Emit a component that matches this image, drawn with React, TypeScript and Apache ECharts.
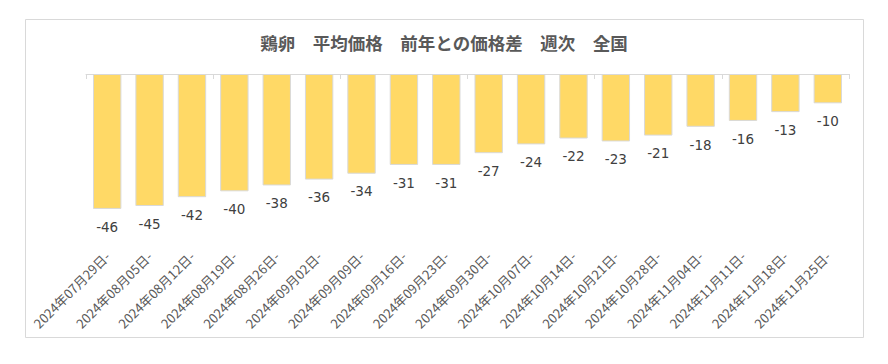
import React, { useEffect, useRef } from "react";
import * as echarts from "echarts";

const TITLE = "鶏卵　平均価格　前年との価格差　週次　全国";

const categories = [
  "2024年07月29日-",
  "2024年08月05日-",
  "2024年08月12日-",
  "2024年08月19日-",
  "2024年08月26日-",
  "2024年09月02日-",
  "2024年09月09日-",
  "2024年09月16日-",
  "2024年09月23日-",
  "2024年09月30日-",
  "2024年10月07日-",
  "2024年10月14日-",
  "2024年10月21日-",
  "2024年10月28日-",
  "2024年11月04日-",
  "2024年11月11日-",
  "2024年11月18日-",
  "2024年11月25日-",
];

const priceDiff = [-46, -45, -42, -40, -38, -36, -34, -31, -31, -27, -24, -22, -23, -21, -18, -16, -13, -10];

const NUM_FONT = "'DejaVu Sans', 'Noto Sans CJK JP', sans-serif";
const CJK_FONT = "'Noto Sans CJK JP', sans-serif";

export default function App() {
  const ref = useRef<HTMLDivElement>(null);

  useEffect(() => {
    if (!ref.current) return;
    const chart = echarts.init(ref.current, undefined, { renderer: "svg" });
    chart.setOption({
      animation: false,
      backgroundColor: "#ffffff",
      title: {
        text: TITLE,
        left: "center",
        top: 34,
        padding: 0,
        textStyle: { fontSize: 17.5, fontWeight: "bold", color: "#595959", fontFamily: CJK_FONT },
      },
      graphic: [
        {
          type: "rect",
          shape: { x: 25.5, y: 19.5, width: 838, height: 318 },
          style: { fill: "none", stroke: "#D9D9D9", lineWidth: 1 },
          silent: true,
        },
      ],
      grid: { left: 86, right: 39, top: 74, height: 176 },
      xAxis: [
        {
          type: "category",
          data: categories,
          position: "bottom",
          axisLine: { show: false },
          axisTick: { show: false },
          axisLabel: {
            rotate: 45,
            margin: 4,
            interval: 0,
            fontSize: 13,
            color: "#595959",
            fontFamily: CJK_FONT,
          },
        },
        {
          type: "category",
          data: categories,
          position: "top",
          axisLine: { show: true, lineStyle: { color: "#D9D9D9", width: 1 } },
          axisTick: { show: true, inside: true, length: 5, lineStyle: { color: "#D9D9D9" } },
          axisLabel: { show: false },
        },
      ],
      yAxis: {
        type: "value",
        min: -60,
        max: 0,
        show: false,
        splitLine: { show: false },
      },
      series: [
        {
          type: "bar",
          data: priceDiff,
          xAxisIndex: 0,
          barCategoryGap: "33%",
          itemStyle: { color: "#FFD966", borderColor: "#D9D9D9", borderWidth: 1 },
          label: {
            show: true,
            position: "bottom",
            distance: 11,
            fontSize: 13.5,
            color: "#404040",
            fontFamily: NUM_FONT,
          },
        },
      ],
    });
    return () => chart.dispose();
  }, []);

  return (
    <div
      ref={ref}
      style={{ position: "fixed", left: 0, top: 0, width: 888, height: 364 }}
    />
  );
}
